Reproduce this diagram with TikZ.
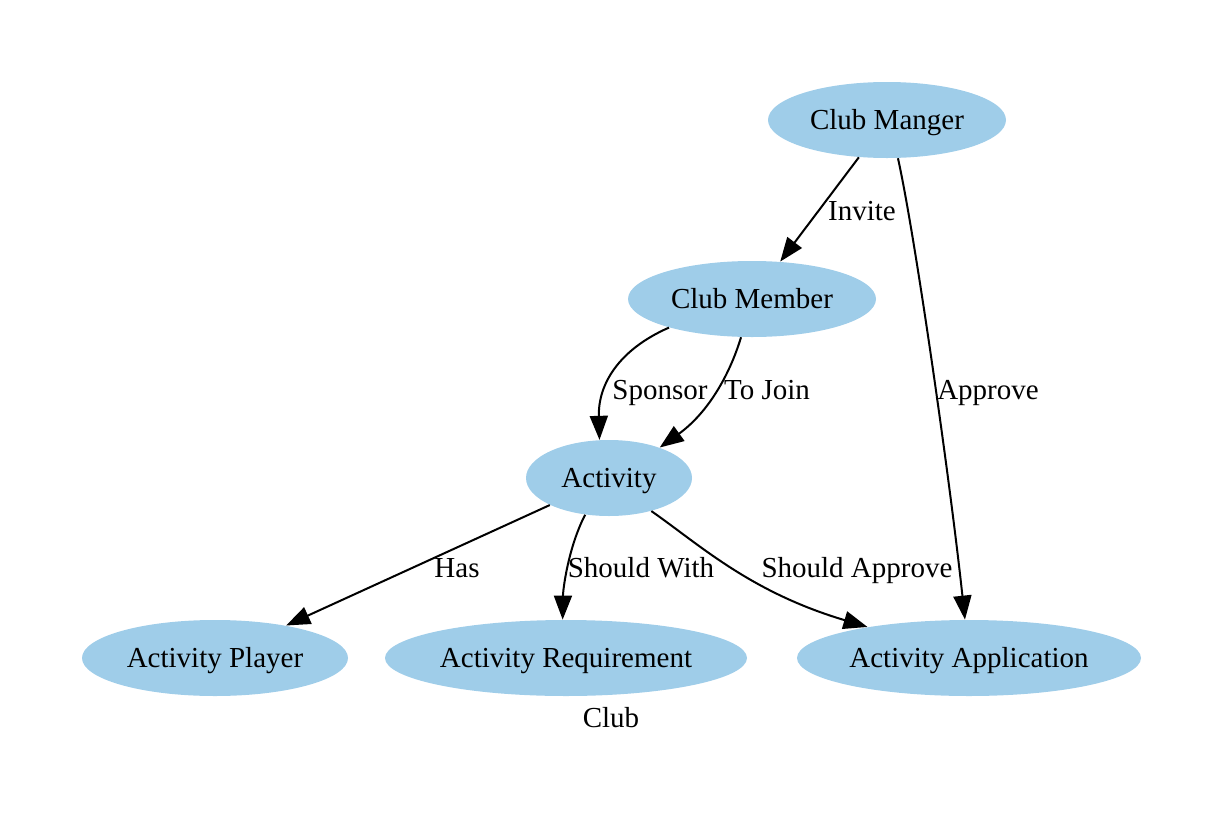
\documentclass[tikz,border=0pt]{standalone}
\usepackage{fontspec}
\setmainfont{Liberation Serif}
\definecolor{clubblue}{RGB}{159,205,233}
\usetikzlibrary{arrows.meta,shapes.geometric}

\begin{document}
\begin{tikzpicture}[
  x=0.5pt,y=-0.5pt,
  every node/.style={font=\fontsize{14.5}{16}\selectfont,text height=12pt,text depth=3pt},
  clubnode/.style={ellipse,fill=clubblue,inner sep=0pt,minimum height=38pt},
  arr/.style={-{Triangle[length=12pt,width=9pt]},line width=1pt,black},
]
  \useasboundingbox (0,0) rectangle (1222,825);

  % Nodes
  \node[clubnode,minimum width=119pt] (mgr) at (887,120) {Club Manger};
  \node[clubnode,minimum width=124pt] (mem) at (752,299) {Club Member};
  \node[clubnode,minimum width=83pt]  (act) at (609,478) {Activity};
  \node[clubnode,minimum width=133pt] (ply) at (215,658) {Activity Player};
  \node[clubnode,minimum width=181pt] (req) at (566,658) {Activity Requirement};
  \node[clubnode,minimum width=172pt] (app) at (969,658) {Activity Application};

  % Arrows
  \draw[arr] (mgr) -- (mem);
  \draw[arr] (mgr.-74) .. controls (915,235) and (950,480) .. (app.96);
  \draw[arr] (mem.-161) .. controls (618,350) and (598,385) .. (act.104);
  \draw[arr] (mem.-106) .. controls (728,380) and (705,415) .. (act.31);
  \draw[arr] (act) -- (ply);
  \draw[arr] (act.-123) .. controls (568,548) and (563,590) .. (req.95);
  \draw[arr] (act.-38) .. controls (700,545) and (750,592) .. (app.163);

  % Labels
  \node (lInvite)  at (862,211) {Invite};
  \node (lApprove) at (988,390) {Approve};
  \node (lSponsor) at (660,390) {Sponsor};
  \node (lJoin)    at (767,390) {To Join};
  \node (lHas)     at (457,568) {Has};
  \node (lWith)    at (641,568) {Should With};
  \node (lShould)  at (857,568) {Should Approve};
  \node (lClub)    at (611,718) {Club};
\end{tikzpicture}
\end{document}
